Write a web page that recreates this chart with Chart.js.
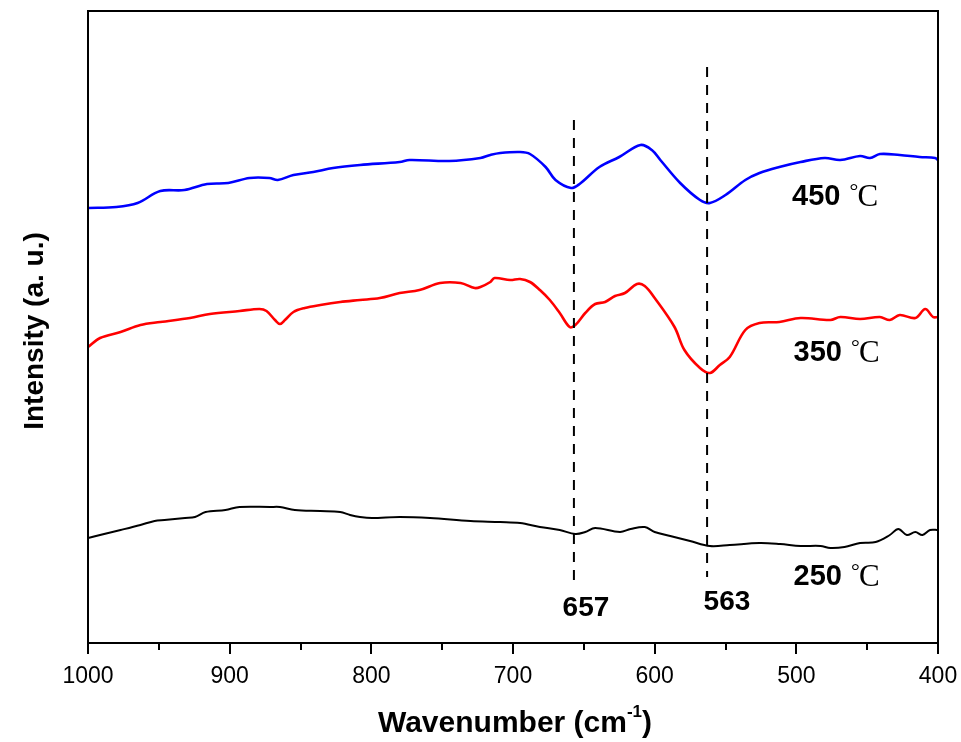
<!DOCTYPE html>
<html>
<head>
<meta charset="utf-8">
<script src="https://cdn.jsdelivr.net/npm/chart.js@4.4.1/dist/chart.umd.min.js"></script>
<style>
  html, body { margin: 0; padding: 0; background: #fff; }
  #wrap { width: 961px; height: 742px; }
</style>
</head>
<body>
<div id="wrap"><canvas id="ftir" width="961" height="742"></canvas></div>
<script>
// wavenumbers (cm-1) and intensities (a.u., offset stacked)
var wn450 = [1000, 980, 965, 949, 932, 916, 901, 886, 872, 866, 855, 841, 827, 808, 780, 773, 745, 723, 716, 709, 695, 688, 677, 670, 659, 653, 639, 625, 610, 602, 596, 582, 568, 561, 550, 536, 526, 512, 497, 480, 469, 455, 448, 441, 427, 413, 402, 400];
var int450 = [435, 436, 440, 452, 453, 459, 460, 465, 465, 463, 468, 471, 475, 478, 481, 483, 482, 485, 488, 490, 491, 489, 476, 463, 455, 459, 476, 486, 498, 493, 483, 460, 443, 440, 448, 463, 470, 476, 481, 485, 483, 487, 485, 489, 488, 486, 485, 483];

var wn350 = [1000, 991.5, 977, 963, 949, 928, 914, 893, 879, 874, 868, 864.5, 861, 855, 847, 836, 822, 808, 794, 780, 766, 751.5, 737, 727, 723, 716, 713, 702, 695, 688, 681, 674, 667, 660, 656, 649, 642, 635, 628, 621, 612.5, 607, 600, 586, 579, 568, 561, 554, 547, 536, 526, 512, 497, 476, 469, 455, 441, 434, 427, 416, 409, 403.5, 400];
var int350 = [296, 305, 311, 318, 321, 325, 329, 332, 334, 332, 323, 319, 323, 331, 335, 338, 341, 343, 345, 350, 353, 360, 360, 355, 356, 361, 365, 363, 364, 361, 353, 343, 330, 316, 318, 330, 339, 341, 347, 350, 359, 357, 345, 316, 293, 275, 270, 278, 286, 313, 320, 321, 325, 323, 326, 324, 326, 323, 328, 325, 334, 326, 326];

var wn250 = [1000, 991.5, 977, 963, 953, 946, 931.5, 924.5, 917, 903, 893, 871.5, 864.5, 854, 836, 822, 815, 808, 799.5, 780, 758.6, 730, 709, 695, 681, 667, 656, 649, 642, 624.5, 617, 607, 600, 589, 575, 561, 547, 526, 511.5, 497, 483, 476, 466, 455, 444, 434, 428, 422, 416, 411, 405.6, 400];
var int250 = [105, 108, 113, 118, 122, 123, 125, 126, 131, 133, 136, 136, 136, 133, 132, 131, 128, 126, 125, 126, 125, 122, 121, 120, 116, 113, 109, 111, 115, 111, 114, 116, 111, 107, 102, 97, 98, 100, 99, 97, 97, 95, 96, 100, 101, 108, 114, 108, 111, 108, 113, 113];

// dashed marker lines: position and vertical extent
var peakWn = [657, 563];
var peakTop = [523, 576];
var peakBottom = [58, 66];

// annotation texts
var tempText = ["450", "350", "250"];
var tempWn = [503, 502, 502];
var tempY = [446, 290, 66];
var peakText = ["657", "563"];
var peakLabelWn = [648.5, 549];
var peakLabelY = [35, 41];

var xTicks = [400, 450, 500, 550, 600, 650, 700, 750, 800, 850, 900, 950, 1000];

function toXY(xs, ys) {
    var out = [];
    for (var i = 0; i < xs.length; i++) out.push({x: xs[i], y: ys[i]});
    return out;
}

var datasets = [];
for (var k = 0; k < peakWn.length; k++) {
    datasets.push({
        data: [{x: peakWn[k], y: peakTop[k]}, {x: peakWn[k], y: peakBottom[k]}],
        borderColor: "#000",
        borderWidth: 2,
        borderDash: [10, 8],
        pointRadius: 0,
        order: 0
    });
}
datasets.push({data: toXY(wn450, int450), borderColor: "#0000ff", borderWidth: 2.6, pointRadius: 0, tension: 0.35, order: 1});
datasets.push({data: toXY(wn350, int350), borderColor: "#ff0000", borderWidth: 2.6, pointRadius: 0, tension: 0.35, order: 1});
datasets.push({data: toXY(wn250, int250), borderColor: "#000000", borderWidth: 2, pointRadius: 0, tension: 0.35, order: 1});

var decor = {
    id: "decor",
    beforeDraw: function (chart) {
        var c = chart.ctx;
        c.save();
        c.fillStyle = "#fff";
        c.fillRect(0, 0, chart.width, chart.height);
        c.restore();
    },
    afterDraw: function (chart) {
        var c = chart.ctx, a = chart.chartArea;
        var xs = chart.scales.x, ys = chart.scales.y;
        c.save();
        // frame
        c.strokeStyle = "#000";
        c.lineWidth = 2;
        c.strokeRect(a.left, a.top, a.right - a.left, a.bottom - a.top);
        // ticks, outward
        for (var i = 0; i < xTicks.length; i++) {
            var px = Math.round(xs.getPixelForValue(xTicks[i]));
            var len = (xTicks[i] % 100 === 0) ? 11 : 7;
            c.beginPath();
            c.moveTo(px, a.bottom);
            c.lineTo(px, a.bottom + len);
            c.stroke();
        }
        c.fillStyle = "#000";
        c.textBaseline = "middle";
        // temperature labels, degree sign + serif C
        for (var j = 0; j < tempText.length; j++) {
            var tx = xs.getPixelForValue(tempWn[j]);
            var ty = ys.getPixelForValue(tempY[j]);
            c.textAlign = "left";
            c.font = "bold 29px 'Liberation Sans', Arial, sans-serif";
            c.fillText(tempText[j], tx, ty);
            var w = c.measureText(tempText[j]).width;
            c.font = "22px 'Liberation Serif', 'Times New Roman', serif";
            c.fillText("\u00b0", tx + w + 9, ty - 5);
            c.font = "31px 'Liberation Serif', 'Times New Roman', serif";
            c.fillText("C", tx + w + 17, ty + 1);
        }
        // peak labels
        c.textAlign = "center";
        c.font = "bold 28px 'Liberation Sans', Arial, sans-serif";
        for (var m = 0; m < peakText.length; m++) {
            c.fillText(peakText[m], xs.getPixelForValue(peakLabelWn[m]), ys.getPixelForValue(peakLabelY[m]));
        }
        // x axis title with superscript
        c.font = "bold 30px 'Liberation Sans', Arial, sans-serif";
        var t1 = "Wavenumber (cm", t2 = "-1", t3 = ")";
        var w1 = c.measureText(t1).width, w3 = c.measureText(t3).width;
        c.font = "bold 17px 'Liberation Sans', Arial, sans-serif";
        var w2 = c.measureText(t2).width;
        var x0 = (a.left + a.right) / 2 - (w1 + w2 + w3) / 2 + 2;
        c.textAlign = "left";
        c.font = "bold 30px 'Liberation Sans', Arial, sans-serif";
        c.fillText(t1, x0, 724);
        c.fillText(t3, x0 + w1 + w2, 724);
        c.font = "bold 17px 'Liberation Sans', Arial, sans-serif";
        c.fillText(t2, x0 + w1, 712);
        // y axis title
        c.translate(35, 331);
        c.rotate(-Math.PI / 2);
        c.textAlign = "center";
        c.font = "bold 28px 'Liberation Sans', Arial, sans-serif";
        c.fillText("Intensity (a. u.)", 0, 0);
        c.restore();
    }
};

var ctx = document.getElementById("ftir").getContext("2d");
var chart = new Chart(ctx, {
    type: "line",
    data: {datasets: datasets},
    options: {
        responsive: false,
        animation: false,
        events: [],
        layout: {padding: {top: 11, right: 23, left: 0, bottom: 0}},
        plugins: {legend: {display: false}, tooltip: {enabled: false}},
        scales: {
            x: {
                type: "linear",
                reverse: true,
                min: 400,
                max: 1000,
                afterFit: function (s) { s.height = 99; },
                afterBuildTicks: function (s) {
                    s.ticks = xTicks.map(function (v) { return {value: v}; });
                },
                border: {display: false},
                grid: {display: false, drawTicks: false},
                ticks: {
                    autoSkip: false,
                    maxRotation: 0,
                    padding: 20,
                    color: "#000",
                    font: {family: "'Liberation Sans', Arial, sans-serif", size: 23},
                    callback: function (v) { return v % 100 === 0 ? String(v) : ""; }
                }
            },
            y: {
                type: "linear",
                min: 0,
                max: 632,
                afterFit: function (s) { s.width = 88; },
                border: {display: false},
                grid: {display: false},
                ticks: {display: false}
            }
        }
    },
    plugins: [decor]
});
</script>
</body>
</html>
